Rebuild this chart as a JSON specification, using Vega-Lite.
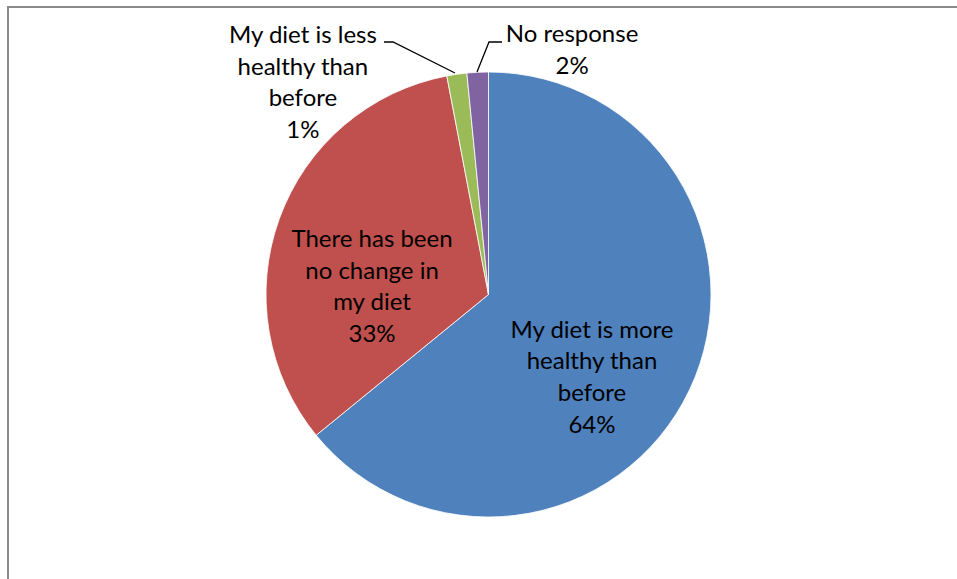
{
  "$schema": "https://vega.github.io/schema/vega-lite/v6.json",
  "width": 952,
  "height": 575,
  "autosize": {"type": "none"},
  "padding": {"left": 8, "top": 7, "right": -3, "bottom": -3},
  "background": "white",
  "config": {"view": {"stroke": "#8a8a8a", "strokeWidth": 2}, "font": "Lato"},
  "datasets": {
    "shares": [
      {"category": "My diet is more healthy than before", "rank": 1, "percent": 64.1, "label": "My diet is more\nhealthy than\nbefore\n64%"},
      {"category": "There has been no change in my diet", "rank": 2, "percent": 32.9, "label": "There has been\nno change in\nmy diet\n33%"},
      {"category": "My diet is less healthy than before", "rank": 3, "percent": 1.45, "label": "My diet is less\nhealthy than\nbefore\n1%"},
      {"category": "No response", "rank": 4, "percent": 1.55, "label": "No response\n2%"}
    ],
    "leaders": [
      {"leader": "less", "step": 1, "u": -0.4697, "v": 1.1348},
      {"leader": "less", "step": 2, "u": -0.4292, "v": 1.1348},
      {"leader": "less", "step": 3, "u": -0.1506, "v": 0.9955},
      {"leader": "none", "step": 1, "u": 0.0607, "v": 1.1348},
      {"leader": "none", "step": 2, "u": 0.0022, "v": 1.1348},
      {"leader": "none", "step": 3, "u": -0.0517, "v": 1.0}
    ]
  },
  "layer": [
    {
      "data": {"name": "shares"},
      "mark": {"type": "arc", "outerRadius": 222.5, "stroke": "white", "strokeWidth": 0.8},
      "encoding": {
        "x": {"datum": 0, "type": "quantitative", "scale": {"domain": [-2.1596, 2.1191], "nice": false, "zero": false}, "axis": null},
        "y": {"datum": 0, "type": "quantitative", "scale": {"domain": [-1.2921, 1.2921], "nice": false, "zero": false}, "axis": null},
        "theta": {"field": "percent", "type": "quantitative", "stack": true},
        "order": {"field": "rank", "type": "quantitative"},
        "color": {
          "field": "category",
          "type": "nominal",
          "scale": {
            "domain": ["My diet is more healthy than before", "There has been no change in my diet", "My diet is less healthy than before", "No response"],
            "range": ["#4F81BD", "#C0504D", "#9BBB59", "#8064A2"]
          },
          "legend": null
        }
      }
    },
    {
      "data": {"name": "leaders"},
      "mark": {"type": "line", "color": "black", "strokeWidth": 1.3},
      "encoding": {
        "x": {"field": "u", "type": "quantitative", "axis": null},
        "y": {"field": "v", "type": "quantitative", "axis": null},
        "detail": {"field": "leader"},
        "order": {"field": "step", "type": "quantitative"}
      }
    },
    {
      "data": {"name": "shares"},
      "mark": {"type": "text", "radius": 133, "dx": -16.7, "dy": -21, "fontSize": 24, "lineHeight": 31.7, "lineBreak": "\n", "align": "center", "baseline": "middle", "color": "black"},
      "encoding": {
        "x": {"datum": 0, "type": "quantitative"},
        "y": {"datum": 0, "type": "quantitative"},
        "theta": {"field": "percent", "type": "quantitative", "stack": true},
        "order": {"field": "rank", "type": "quantitative"},
        "detail": {"field": "category"},
        "text": {"condition": {"test": "datum.rank === 1", "field": "label"}, "value": ""}
      }
    },
    {
      "data": {"name": "shares"},
      "mark": {"type": "text", "radius": 116.7, "dx": -6.8, "dy": -14.6, "fontSize": 24, "lineHeight": 31.7, "lineBreak": "\n", "align": "center", "baseline": "middle", "color": "black"},
      "encoding": {
        "x": {"datum": 0, "type": "quantitative"},
        "y": {"datum": 0, "type": "quantitative"},
        "theta": {"field": "percent", "type": "quantitative", "stack": true},
        "order": {"field": "rank", "type": "quantitative"},
        "detail": {"field": "category"},
        "text": {"condition": {"test": "datum.rank === 2", "field": "label"}, "value": ""}
      }
    },
    {
      "data": {"name": "shares"},
      "mark": {"type": "text", "radius": 250, "dx": -150, "dy": -11, "fontSize": 24, "lineHeight": 31.7, "lineBreak": "\n", "align": "center", "baseline": "middle", "color": "black"},
      "encoding": {
        "x": {"datum": 0, "type": "quantitative"},
        "y": {"datum": 0, "type": "quantitative"},
        "theta": {"field": "percent", "type": "quantitative", "stack": true},
        "order": {"field": "rank", "type": "quantitative"},
        "detail": {"field": "category"},
        "text": {"condition": {"test": "datum.rank === 3", "field": "label"}, "value": ""}
      }
    },
    {
      "data": {"name": "shares"},
      "mark": {"type": "text", "radius": 250, "dx": 95.7, "dy": -9.65, "fontSize": 24, "lineHeight": 31.7, "lineBreak": "\n", "align": "center", "baseline": "middle", "color": "black"},
      "encoding": {
        "x": {"datum": 0, "type": "quantitative"},
        "y": {"datum": 0, "type": "quantitative"},
        "theta": {"field": "percent", "type": "quantitative", "stack": true},
        "order": {"field": "rank", "type": "quantitative"},
        "detail": {"field": "category"},
        "text": {"condition": {"test": "datum.rank === 4", "field": "label"}, "value": ""}
      }
    }
  ]
}
